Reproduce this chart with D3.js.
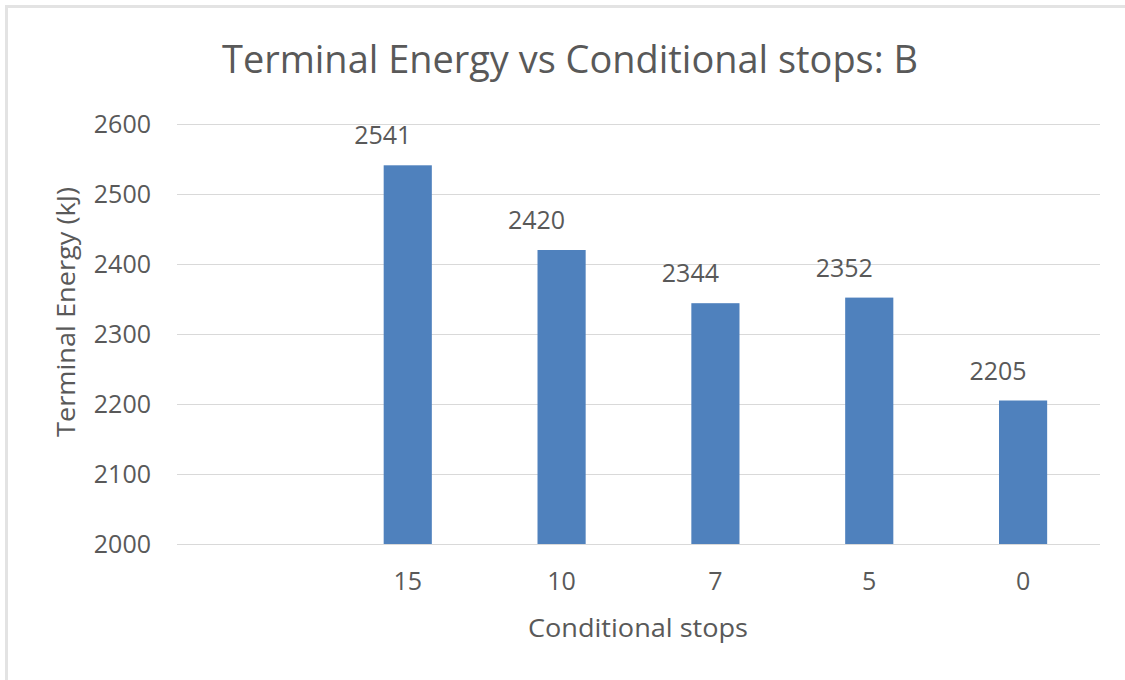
<!DOCTYPE html>
<html>
<head>
<meta charset="utf-8">
<script src="https://cdn.jsdelivr.net/npm/d3@7"></script>
<style>
  html, body { margin: 0; padding: 0; background: #ffffff; }
  svg { display: block; }
  text { font-family: "Open Sans", "Liberation Sans", sans-serif; fill: #595959; }
</style>
</head>
<body>
<svg id="chart" width="1125" height="680"></svg>
<script>
// Chart data
const categories = ["", "15", "10", "7", "5", "0"];
const energyValues = [null, 2541, 2420, 2344, 2352, 2205];
const yTicks = [2000, 2100, 2200, 2300, 2400, 2500, 2600];
const chartTitle = "Terminal Energy vs Conditional stops: B";
const xAxisTitle = "Conditional stops";
const yAxisTitle = "Terminal Energy (kJ)";

const width = 1125, height = 680;
const plot = { left: 177, right: 1100, top: 124, bottom: 544 };

const svg = d3.select("#chart");

// Chart-area frame (light grey edge along top and left)
svg.append("rect").attr("x", 5).attr("y", 5).attr("width", width - 5).attr("height", 3).attr("fill", "#e3e3e3");
svg.append("rect").attr("x", 5).attr("y", 5).attr("width", 3).attr("height", height - 5).attr("fill", "#e3e3e3");

const x = d3.scaleBand()
  .domain(categories)
  .range([plot.left, plot.right])
  .paddingInner(0.687)
  .paddingOuter(0.3435);

const y = d3.scaleLinear()
  .domain([d3.min(yTicks), d3.max(yTicks)])
  .range([plot.bottom, plot.top]);

// Horizontal gridlines
svg.append("g")
  .selectAll("line")
  .data(yTicks)
  .join("line")
  .attr("x1", plot.left)
  .attr("x2", plot.right)
  .attr("y1", d => Math.round(y(d)) + 0.5)
  .attr("y2", d => Math.round(y(d)) + 0.5)
  .attr("stroke", "#d9d9d9")
  .attr("stroke-width", 1);

// Y axis labels
const yAxis = d3.axisLeft(y).tickValues(yTicks).tickSize(0).tickPadding(0).tickFormat(d3.format("d"));
const yAxisG = svg.append("g").attr("transform", `translate(${plot.left - 26},0)`).call(yAxis);
yAxisG.select(".domain").remove();
yAxisG.selectAll("text")
  .attr("font-size", 25)
  .attr("font-family", null)
  .attr("fill", "#595959")
  .attr("dy", "0.35em");

// X axis labels
const xAxis = d3.axisBottom(x).tickSize(0).tickPadding(0);
const xAxisG = svg.append("g").attr("transform", `translate(0,${plot.bottom})`).call(xAxis);
xAxisG.select(".domain").remove();
xAxisG.selectAll("text")
  .attr("font-size", 25)
  .attr("font-family", null)
  .attr("fill", "#595959")
  .attr("y", 46)
  .attr("dy", null);

const rows = categories.map((c, i) => ({ cat: c, value: energyValues[i] })).filter(d => d.value != null);

// Bars
svg.append("g")
  .selectAll("rect")
  .data(rows)
  .join("rect")
  .attr("x", d => x(d.cat))
  .attr("y", d => y(d.value))
  .attr("width", x.bandwidth())
  .attr("height", d => y(y.domain()[0]) - y(d.value))
  .attr("fill", "#4f81bd");

// Value labels
svg.append("g")
  .selectAll("text")
  .data(rows)
  .join("text")
  .attr("x", d => x(d.cat) + x.bandwidth() / 2 - 25)
  .attr("y", d => y(d.value) - 21)
  .attr("text-anchor", "middle")
  .attr("font-size", 25)
  .text(d => d.value);

// Titles
svg.append("text")
  .attr("x", 570)
  .attr("y", 73)
  .attr("text-anchor", "middle")
  .attr("font-size", 38)
  .attr("textLength", 696)
  .attr("lengthAdjust", "spacingAndGlyphs")
  .text(chartTitle);

svg.append("text")
  .attr("x", 638)
  .attr("y", 637)
  .attr("text-anchor", "middle")
  .attr("font-size", 26)
  .attr("textLength", 220)
  .attr("lengthAdjust", "spacingAndGlyphs")
  .text(xAxisTitle);

svg.append("text")
  .attr("transform", "translate(75,312) rotate(-90)")
  .attr("text-anchor", "middle")
  .attr("font-size", 26)
  .attr("textLength", 250)
  .attr("lengthAdjust", "spacingAndGlyphs")
  .text(yAxisTitle);
</script>
</body>
</html>
